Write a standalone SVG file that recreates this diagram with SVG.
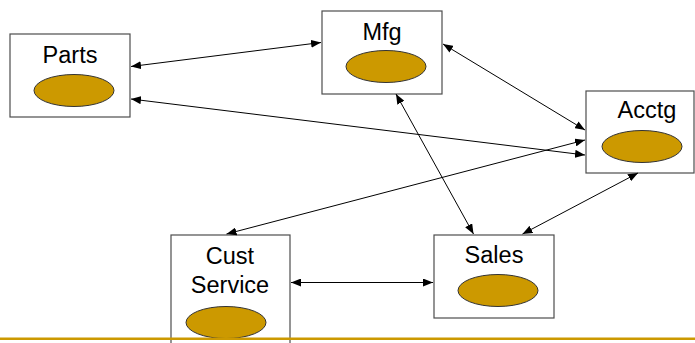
<svg xmlns="http://www.w3.org/2000/svg" width="695" height="343" viewBox="0 0 695 343">
  <style>
    .box { fill: #ffffff; stroke: #4d4d4d; stroke-width: 1.2; }
    .disk { fill: #cc9900; stroke: #333333; stroke-width: 1; }
    .label { font-family: "Liberation Sans", Arial, sans-serif; font-size: 23.5px; fill: #000000; text-anchor: middle; }
    .link { stroke: #000000; stroke-width: 1; fill: none; marker-start: url(#head); marker-end: url(#head); }
  </style>
  <defs>
    <marker id="head" viewBox="0 0 10 8" refX="10" refY="4" markerWidth="10" markerHeight="8" markerUnits="userSpaceOnUse" orient="auto-start-reverse">
      <path d="M0,0 L10,4 L0,8 Z" fill="#000000"/>
    </marker>
  </defs>

  <rect width="695" height="343" fill="#ffffff"/>

  <g id="parts">
    <rect class="box" x="10" y="34" width="120" height="83"/>
    <text class="label" x="70" y="63">Parts</text>
    <ellipse class="disk" cx="74" cy="90.5" rx="40" ry="16"/>
  </g>

  <g id="mfg">
    <rect class="box" x="322" y="11" width="120" height="83"/>
    <text class="label" x="382" y="40">Mfg</text>
    <ellipse class="disk" cx="386" cy="66.5" rx="40" ry="16"/>
  </g>

  <g id="acctg">
    <rect class="box" x="586" y="91" width="108" height="82"/>
    <text class="label" x="647" y="118">Acctg</text>
    <ellipse class="disk" cx="642" cy="146.5" rx="40" ry="16"/>
  </g>

  <g id="cust-service">
    <rect class="box" x="171" y="235" width="119" height="115"/>
    <text class="label" x="230" y="264">Cust</text>
    <text class="label" x="230" y="292.5">Service</text>
    <ellipse class="disk" cx="226" cy="322.5" rx="40" ry="16"/>
  </g>

  <g id="sales">
    <rect class="box" x="434" y="235" width="120" height="83"/>
    <text class="label" x="494" y="263">Sales</text>
    <ellipse class="disk" cx="498" cy="290.5" rx="40" ry="16"/>
  </g>

  <g id="connectors">
    <line class="link" x1="131" y1="66.5" x2="321" y2="42.5"/>
    <line class="link" x1="131" y1="99" x2="585" y2="155"/>
    <line class="link" x1="443" y1="44" x2="585" y2="130"/>
    <line class="link" x1="396" y1="94" x2="473.5" y2="234"/>
    <line class="link" x1="226.5" y1="234" x2="585" y2="140"/>
    <line class="link" x1="291" y1="282.5" x2="433" y2="282.5"/>
    <line class="link" x1="522.5" y1="234" x2="638" y2="173"/>
  </g>

  <rect x="0" y="337.5" width="695" height="2.5" fill="#cc9900"/>
</svg>
